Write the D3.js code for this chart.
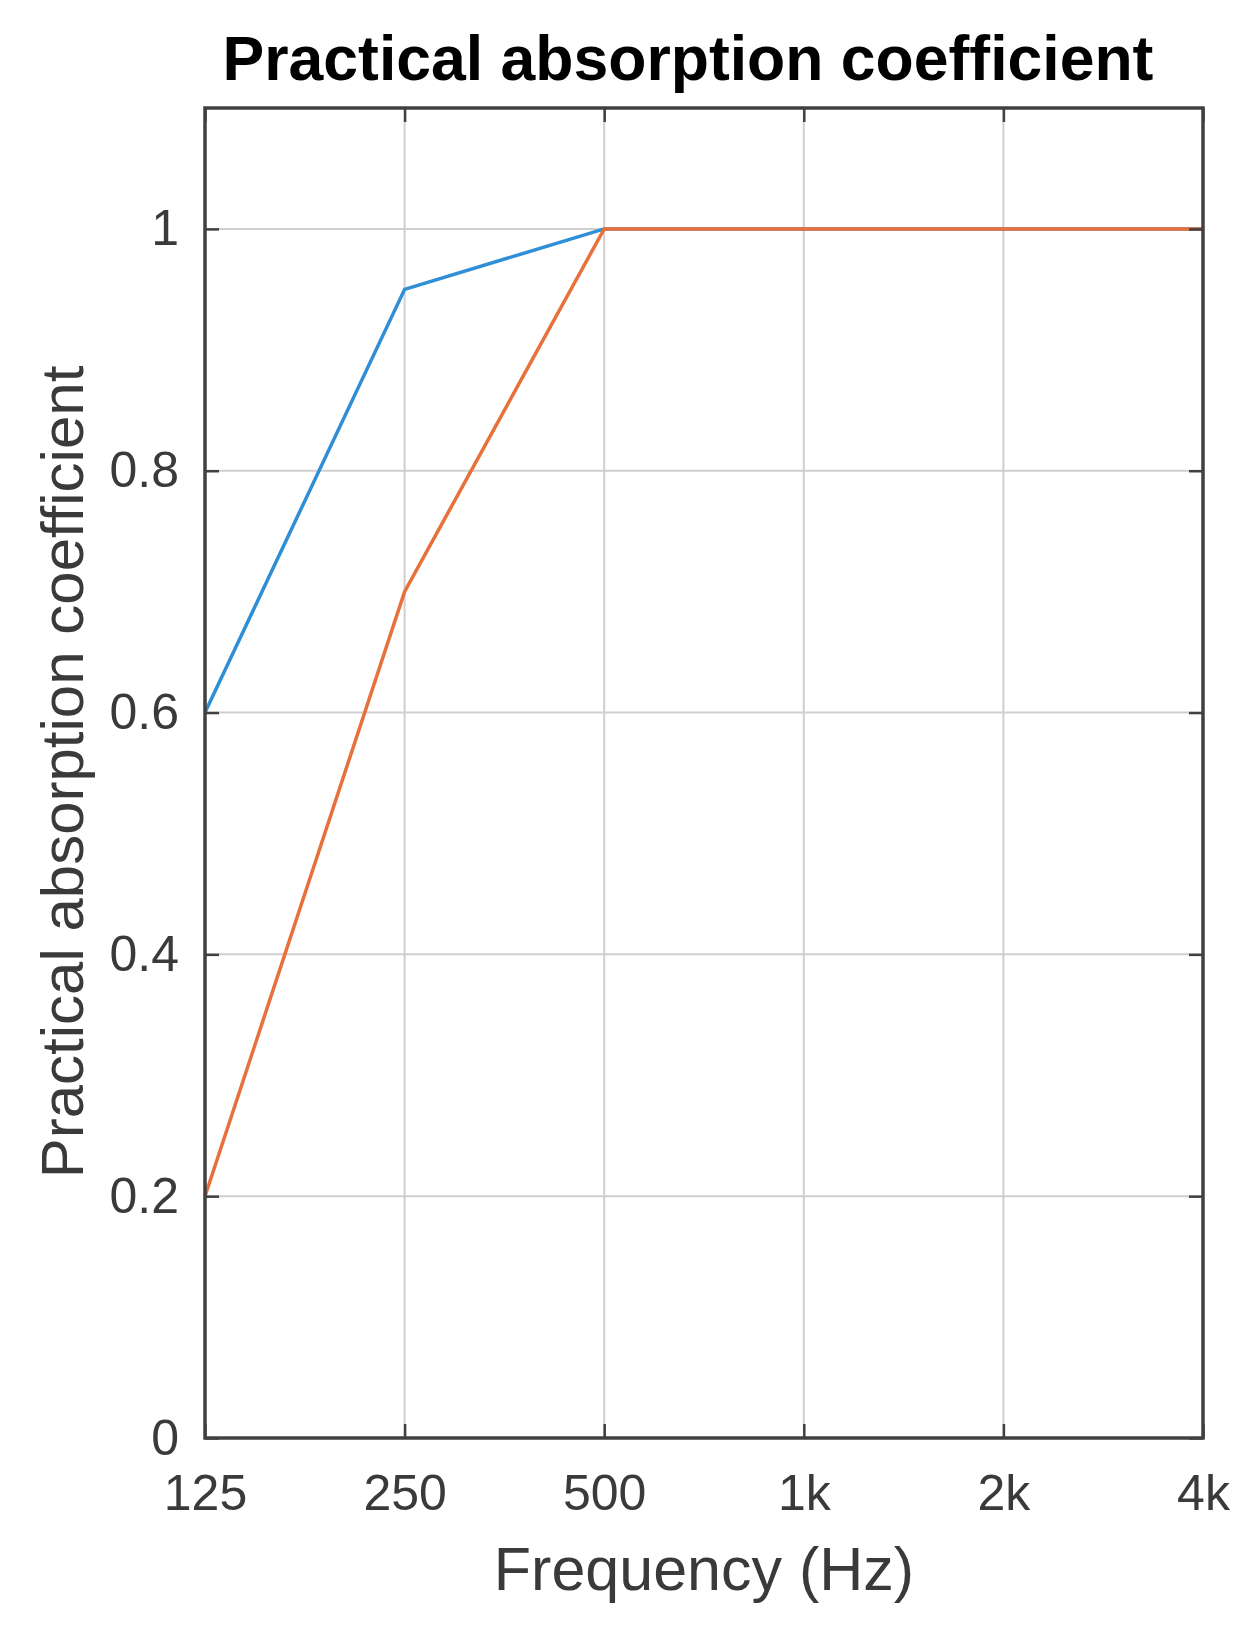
<!DOCTYPE html>
<html>
<head>
<meta charset="utf-8">
<script src="https://cdn.jsdelivr.net/npm/d3@7"></script>
<style>
  body { margin: 0; background: #fff; }
  svg text { font-family: "Liberation Sans", Arial, sans-serif; }
</style>
</head>
<body>
<div id="chart"></div>
<script>
// chart data
var frequencies = [125, 250, 500, 1000, 2000, 4000];
var freqLabels = ["125", "250", "500", "1k", "2k", "4k"];
var seriesA = [0.6, 0.95, 1, 1, 1, 1];
var seriesB = [0.2, 0.7, 1, 1, 1, 1];
var yTicks = [0, 0.2, 0.4, 0.6, 0.8, 1];

var width = 1255, height = 1631;
var margin = {"left": 205, "right": 52, "top": 108, "bottom": 193};

var svg = d3.select("#chart").append("svg")
            .attr("width", width)
            .attr("height", height);

var xScale = d3.scaleLog().base(2)
               .domain([125, 4000])
               .range([margin.left, width - margin.right]);
var yScale = d3.scaleLinear()
               .domain([0, 1.1])
               .range([height - margin.bottom, margin.top]);

var x0 = margin.left, x1 = width - margin.right;
var y0 = height - margin.bottom, y1 = margin.top;

// grid
var grid = svg.append("g").attr("stroke", "#cfcfcf").attr("stroke-width", 2);
grid.selectAll(".vg").data(frequencies.slice(1, -1)).enter().append("line")
    .attr("x1", function(d) {return xScale(d);}).attr("x2", function(d) {return xScale(d);})
    .attr("y1", y0).attr("y2", y1);
grid.selectAll(".hg").data(yTicks.slice(1)).enter().append("line")
    .attr("y1", function(d) {return yScale(d);}).attr("y2", function(d) {return yScale(d);})
    .attr("x1", x0).attr("x2", x1);

// lines
var line = d3.line()
             .x(function(d, i) {return xScale(frequencies[i]);})
             .y(function(d) {return yScale(d);});

svg.append("path").datum(seriesA)
   .attr("fill", "none").attr("stroke", "#2f8fd6").attr("stroke-width", 3.5)
   .attr("d", line);
svg.append("path").datum(seriesB)
   .attr("fill", "none").attr("stroke", "#e8703a").attr("stroke-width", 3.5)
   .attr("d", line);

// axes (inner ticks on all four sides)
var tickLen = 14;
var xBottom = d3.axisBottom(xScale).tickValues(frequencies)
                .tickFormat(function(d, i) {return freqLabels[i];})
                .tickSize(-tickLen).tickPadding(tickLen + 22);
var yLeft = d3.axisLeft(yScale).tickValues(yTicks)
              .tickFormat(d3.format("~g"))
              .tickSize(-tickLen).tickPadding(tickLen + 12);

var gx = svg.append("g").attr("transform", "translate(0," + y0 + ")").call(xBottom);
var gy = svg.append("g").attr("transform", "translate(" + x0 + ",0)").call(yLeft);
svg.append("g").attr("transform", "translate(0," + y1 + ")")
   .call(d3.axisTop(xScale).tickValues(frequencies).tickSize(-tickLen).tickFormat(""));
svg.append("g").attr("transform", "translate(" + x1 + ",0)")
   .call(d3.axisRight(yScale).tickValues(yTicks).tickSize(-tickLen).tickFormat(""));

svg.selectAll(".domain").remove();
svg.selectAll(".tick line").attr("stroke", "#404040").attr("stroke-width", 2.5);
svg.selectAll(".tick text").attr("fill", "#3a3a3a").style("font-size", "50px");

// box
svg.append("rect")
   .attr("x", x0).attr("y", y1)
   .attr("width", x1 - x0).attr("height", y0 - y1)
   .attr("fill", "none").attr("stroke", "#404040").attr("stroke-width", 3.5);

// title and labels
svg.append("text").attr("x", 688).attr("y", 80)
   .attr("text-anchor", "middle").attr("font-weight", "bold")
   .style("font-size", "62.5px").attr("fill", "#000")
   .text("Practical absorption coefficient");

svg.append("text").attr("x", (x0 + x1) / 2).attr("y", 1590)
   .attr("text-anchor", "middle").style("font-size", "61px").attr("fill", "#3a3a3a")
   .text("Frequency (Hz)");

svg.append("text")
   .attr("transform", "translate(83," + 772 + ") rotate(-90)")
   .attr("text-anchor", "middle").style("font-size", "60px").attr("fill", "#3a3a3a")
   .text("Practical absorption coefficient");
</script>
</body>
</html>
